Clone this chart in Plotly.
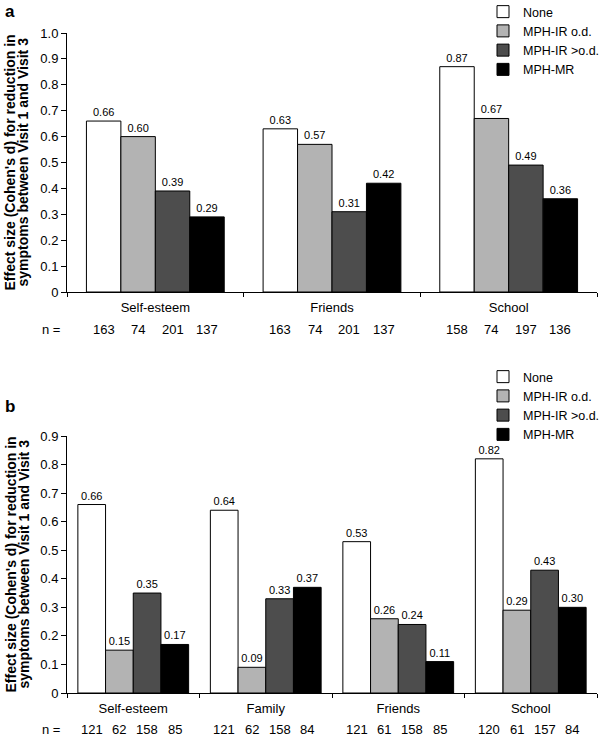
import plotly.graph_objects as go

# painel a
cats_a = ["Self-esteem", "Friends", "School"]
none_a = [0.66, 0.63, 0.87]
irod_a = [0.60, 0.57, 0.67]
irgt_a = [0.39, 0.31, 0.49]
mr_a = [0.29, 0.42, 0.36]
n_a = [[163, 163, 158], [74, 74, 74], [201, 201, 197], [137, 137, 136]]

# painel b
cats_b = ["Self-esteem", "Family", "Friends", "School"]
none_b = [0.66, 0.64, 0.53, 0.82]
irod_b = [0.15, 0.09, 0.26, 0.29]
irgt_b = [0.35, 0.33, 0.24, 0.43]
mr_b = [0.17, 0.37, 0.11, 0.30]
n_b = [[121, 121, 121, 120], [62, 62, 61, 61], [158, 158, 158, 157], [85, 84, 85, 84]]

grupos = ["None", "MPH-IR o.d.", "MPH-IR >o.d.", "MPH-MR"]
cores = ["#ffffff", "#b3b3b3", "#4d4d4d", "#000000"]

ytitle = ["Effect size (Cohen's d) for reduction in", "symptoms between Visit 1 and Visit 3"]
FONT = "Liberation Sans, Arial, sans-serif"
W, H = 605, 739

fig = go.Figure()
annots = []

paineis = [
    (cats_a, [none_a, irod_a, irgt_a, mr_a], n_a, "x", "y", "legend", 0.195, 329),
    (cats_b, [none_b, irod_b, irgt_b, mr_b], n_b, "x2", "y2", "legend2", 0.209, 729),
]

for cats, series, ns, xa, ya, leg, w, ny in paineis:
    for i, nome in enumerate(grupos):
        off = -2 * w + i * w
        fig.add_trace(go.Bar(
            x=cats, y=series[i], name=nome,
            xaxis=xa, yaxis=ya, legend=leg,
            width=w, offset=off,
            marker=dict(color=cores[i], line=dict(color="black", width=1)),
            texttemplate="%{y:.2f}", textposition="outside",
            textfont=dict(size=11, color="black"),
            cliponaxis=False,
        ))
        for j in range(len(cats)):
            annots.append(dict(
                x=j + off + w / 2, xref=xa, y=1 - ny / H, yref="paper",
                xanchor="center", yanchor="middle",
                text=str(ns[i][j]), showarrow=False,
                font=dict(size=13, color="black"),
            ))
    annots.append(dict(x=51 / W, xref="paper", y=1 - ny / H, yref="paper",
                       xanchor="center", yanchor="middle",
                       text="n =", showarrow=False, font=dict(size=13, color="black")))

# titulos do eixo y (uma anotação por linha) e letras dos paineis
for yc in [(33 + 292) / 2, (436 + 693) / 2]:
    for k, xc in enumerate([10, 23]):
        annots.append(dict(x=xc / W, xref="paper", y=1 - yc / H, yref="paper",
                           xanchor="center", yanchor="middle",
                           text="<b>" + ytitle[k] + "</b>", textangle=-90, showarrow=False,
                           font=dict(size=14, color="black")))
annots.append(dict(x=10 / W, xref="paper", y=1 - 12 / H, yref="paper",
                   xanchor="center", yanchor="middle",
                   text="<b>a</b>", showarrow=False, font=dict(size=17, color="black")))
annots.append(dict(x=10 / W, xref="paper", y=1 - 406 / H, yref="paper",
                   xanchor="center", yanchor="middle",
                   text="<b>b</b>", showarrow=False, font=dict(size=17, color="black")))

eixo_x = dict(type="category", showline=True, linecolor="black", linewidth=1,
              ticks="outside", tickson="boundaries", ticklen=4, tickcolor="black",
              showgrid=False, tickfont=dict(size=13, color="black"), zeroline=False,
              automargin=False, ticklabelstandoff=3)
eixo_y = dict(showline=True, linecolor="black", linewidth=1, ticks="outside",
              ticklen=5, tickcolor="black", showgrid=False, zeroline=False,
              tickfont=dict(size=13, color="black"), automargin=False)

ticks_a = [0, 0.1, 0.2, 0.3, 0.4, 0.5, 0.6, 0.7, 0.8, 0.9, 1.0]
ticks_b = [0, 0.1, 0.2, 0.3, 0.4, 0.5, 0.6, 0.7, 0.8, 0.9]

fig.update_layout(
    width=W, height=H,
    margin=dict(l=0, r=0, t=0, b=0, autoexpand=False),
    paper_bgcolor="white", plot_bgcolor="white",
    font=dict(family=FONT, color="black"),
    barmode="overlay",
    xaxis=dict(eixo_x, domain=[67 / W, 597 / W], anchor="y"),
    yaxis=dict(eixo_y, domain=[1 - 292 / H, 1 - 33 / H], range=[0, 1.0], anchor="x",
               tickvals=ticks_a, ticktext=["0"] + ["%.1f" % t for t in ticks_a[1:]]),
    xaxis2=dict(eixo_x, domain=[67 / W, 597 / W], anchor="y2"),
    yaxis2=dict(eixo_y, domain=[1 - 693 / H, 1 - 436 / H], range=[0, 0.9], anchor="x2",
                tickvals=ticks_b, ticktext=["0"] + ["%.1f" % t for t in ticks_b[1:]]),
    legend=dict(x=483 / W, y=1 + 3 / H, xanchor="left", yanchor="top",
                font=dict(size=12.5, color="black"), bgcolor="rgba(0,0,0,0)",
                tracegroupgap=0, itemwidth=30),
    legend2=dict(x=483 / W, y=1 - 362 / H, xanchor="left", yanchor="top",
                 font=dict(size=12.5, color="black"), bgcolor="rgba(0,0,0,0)",
                 tracegroupgap=0, itemwidth=30),
    annotations=annots,
    showlegend=True,
)

# tira a margem padrão do body para a figura ocupar a janela toda
fig.write_html("out.html", config={"displayModeBar": False},
               post_script="document.body.style.margin='0';")
